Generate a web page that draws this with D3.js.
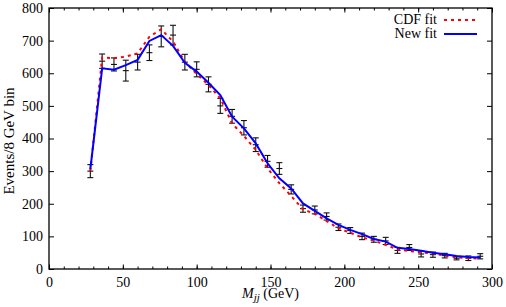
<!DOCTYPE html>
<html>
<head>
<meta charset="utf-8">
<script src="https://cdn.jsdelivr.net/npm/d3@7/dist/d3.min.js"></script>
<style>
  body { margin: 0; background: #fff; }
  text { font-family: "Liberation Serif", "DejaVu Serif", serif; }
</style>
</head>
<body>
<script>
// bin centres (GeV), 8 GeV bins
var mass = [28, 36, 44, 52, 60, 68, 76, 84, 92, 100, 108, 116, 124, 132, 140, 148, 156,
            164, 172, 180, 188, 196, 204, 212, 220, 228, 236, 244, 252, 260, 268, 276, 284, 292];

// measured events per bin and their errors
var events = [300, 637, 627, 608, 634, 663, 713, 717, 634, 612, 566, 500, 468, 433, 381, 330, 308,
              244, 185, 181, 161, 128, 118, 100, 91, 86, 57, 66, 46, 44, 41, 33, 33, 39];
var errors = [20, 22, 20, 32, 24, 24, 32, 30, 24, 23, 23, 23, 21, 22, 21, 18, 18,
              14, 11, 12, 11, 10, 9, 10, 9, 11, 9, 9, 9, 8, 7, 5, 7, 8];

// fits
var cdfFit = [300, 648, 646, 651, 661, 712, 735, 697, 635, 598, 564, 523, 446, 408, 365, 309, 263,
              224, 183, 169, 147, 125, 111, 97, 87, 74, 60, 55, 51, 48, 41, 36, 33, 32];
var newFit = [306, 615, 611, 625, 641, 699, 717, 684, 632, 605, 571, 533, 467, 431, 385, 324, 278,
              247, 201, 178, 155, 135, 120, 107, 92, 84, 65, 61, 56, 50, 45, 40, 37, 35];

var xTicks = [0, 50, 100, 150, 200, 250, 300];
var yTicks = [0, 100, 200, 300, 400, 500, 600, 700, 800];

var width = 506, height = 307;
var margin = {top: 8, right: 14, bottom: 38, left: 49};

var svg = d3.select("body").append("svg")
    .attr("width", width)
    .attr("height", height);

var x = d3.scaleLinear().domain([0, 300]).range([margin.left, width - margin.right]);
var y = d3.scaleLinear().domain([0, 800]).range([height - margin.bottom, margin.top]);

// minor x ticks every 10 GeV, no labels
var minor = d3.range(0, 301, 10);

function styleAxis(g) {
  g.select(".domain").remove();
  g.selectAll("line").attr("stroke", "#000").attr("stroke-width", 1);
  g.selectAll("text").attr("font-size", 14).attr("fill", "#000");
}

svg.append("g")
    .attr("transform", "translate(0," + y(0) + ")")
    .call(d3.axisBottom(x).tickValues(minor).tickSize(-2.5).tickFormat(""))
    .call(styleAxis);
svg.append("g")
    .attr("transform", "translate(0," + y(800) + ")")
    .call(d3.axisTop(x).tickValues(minor).tickSize(-2.5).tickFormat(""))
    .call(styleAxis);

svg.append("g")
    .attr("transform", "translate(0," + y(0) + ")")
    .call(d3.axisBottom(x).tickValues(xTicks).tickSize(-4.5).tickPadding(8.5).tickFormat(d3.format("d")))
    .call(styleAxis);
svg.append("g")
    .attr("transform", "translate(0," + y(800) + ")")
    .call(d3.axisTop(x).tickValues(xTicks).tickSize(-4.5).tickFormat(""))
    .call(styleAxis);

svg.append("g")
    .attr("transform", "translate(" + x(0) + ",0)")
    .call(d3.axisLeft(y).tickValues(yTicks).tickSize(-5).tickPadding(6).tickFormat(d3.format("d")))
    .call(styleAxis);
svg.append("g")
    .attr("transform", "translate(" + x(300) + ",0)")
    .call(d3.axisRight(y).tickValues(yTicks).tickSize(-5).tickFormat(""))
    .call(styleAxis);

// frame
svg.append("rect")
    .attr("x", x(0)).attr("y", y(800))
    .attr("width", x(300) - x(0)).attr("height", y(0) - y(800))
    .attr("fill", "none").attr("stroke", "#000").attr("stroke-width", 1.3);

// data with error bars
var pts = svg.append("g").attr("stroke", "#111").attr("stroke-width", 1.1);
mass.forEach(function(m, i) {
  var cx = x(m), lo = y(events[i] - errors[i]), hi = y(events[i] + errors[i]);
  pts.append("line").attr("x1", cx).attr("x2", cx).attr("y1", lo).attr("y2", hi);
  pts.append("line").attr("x1", cx - 3).attr("x2", cx + 3).attr("y1", lo).attr("y2", lo);
  pts.append("line").attr("x1", cx - 3).attr("x2", cx + 3).attr("y1", hi).attr("y2", hi);
  pts.append("line").attr("x1", cx - 3).attr("x2", cx + 3)
      .attr("y1", y(events[i])).attr("y2", y(events[i]));
});

var line = d3.line()
    .x(function(d) { return x(d[0]); })
    .y(function(d) { return y(d[1]); });

svg.append("path")
    .datum(d3.zip(mass, cdfFit))
    .attr("d", line)
    .attr("fill", "none").attr("stroke", "#ff0000")
    .attr("stroke-width", 2).attr("stroke-dasharray", "3,4");

svg.append("path")
    .datum(d3.zip(mass, newFit))
    .attr("d", line)
    .attr("fill", "none").attr("stroke", "#0000ff")
    .attr("stroke-width", 2);

// legend
var legend = [["CDF fit", "#ff0000", "3,4"], ["New fit", "#0000ff", null]];
legend.forEach(function(l, i) {
  var ly = 20 + i * 14;
  svg.append("text")
      .attr("x", 437).attr("y", ly + 3.5)
      .attr("text-anchor", "end").attr("font-size", 14)
      .text(l[0]);
  svg.append("line")
      .attr("x1", 444).attr("x2", 477).attr("y1", ly).attr("y2", ly)
      .attr("stroke", l[1]).attr("stroke-width", 2)
      .attr("stroke-dasharray", l[2]);
});

// axis titles
svg.append("text")
    .attr("transform", "translate(14,141) rotate(-90)")
    .attr("text-anchor", "middle").attr("font-size", 15)
    .text("Events/8 GeV bin");

var xl = svg.append("text")
    .attr("x", (x(0) + x(300)) / 2).attr("y", 298)
    .attr("text-anchor", "middle").attr("font-size", 14);
xl.append("tspan").attr("font-style", "italic").text("M");
xl.append("tspan").attr("font-style", "italic").attr("font-size", 11).attr("dy", 3).text("jj");
xl.append("tspan").attr("dy", -3).text(" (GeV)");
</script>
</body>
</html>
